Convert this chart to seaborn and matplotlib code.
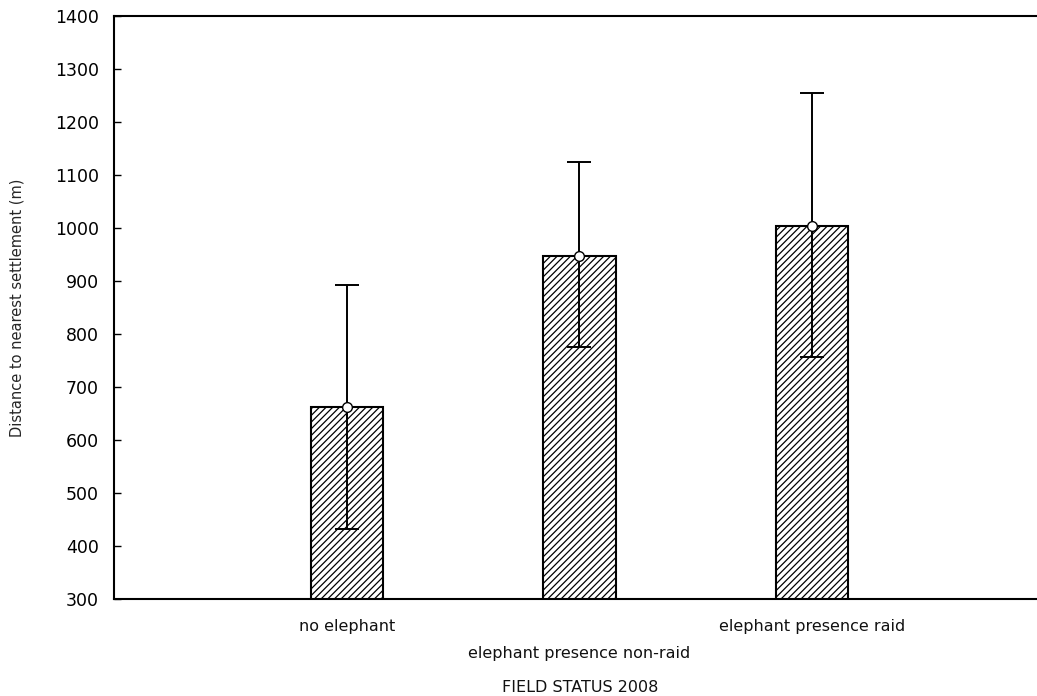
import matplotlib
matplotlib.use("Agg")
import matplotlib.pyplot as plt
import seaborn as sns
import pandas as pd
import numpy as np

categories = ["no elephant", "elephant presence non-raid", "elephant presence raid"]
means = [662, 948, 1004]
upper = [893, 1124, 1255]
lower = [432, 775, 756]

sns.set_theme(style="white")
plt.rcParams["font.family"] = ["DejaVu Sans"]
plt.rcParams["hatch.linewidth"] = 0.9
plt.rcParams["hatch.color"] = "#222222"

df = pd.DataFrame({"status": categories, "distance": means})

fig = plt.figure(figsize=(10.37, 6.96), dpi=100)
ax = fig.add_axes([114 / 1037, 1 - 599 / 696, (1045 - 114) / 1037, (599 - 16) / 696])

sns.barplot(data=df, x="status", y="distance", ax=ax, width=0.31,
            color="white", edgecolor="black", linewidth=1.5, errorbar=None)
for p in ax.patches:
    p.set_hatch("/////")
    p.set_facecolor("white")

x = np.arange(len(categories))
m = np.array(means)
yerr = np.vstack([m - np.array(lower), np.array(upper) - m])
ax.errorbar(x, m, yerr=yerr, fmt="none", ecolor="black", elinewidth=1.4,
            capsize=8.5, capthick=1.4, zorder=5)
ax.plot(x, m, linestyle="none", marker="o", markersize=7, markerfacecolor="white",
        markeredgecolor="black", markeredgewidth=1.0, zorder=6)

ax.set_xlim(-1, 3)
ax.set_ylim(300, 1400)
ax.set_yticks(np.arange(300, 1401, 100))
ax.tick_params(axis="y", direction="in", length=5, width=1, colors="black",
               labelsize=12.5, left=True, pad=11)
ax.tick_params(axis="x", direction="in", length=0, labelsize=11.5, pad=8)
ax.set_xticks(x)
ax.set_xticklabels([])
for i, lab in enumerate(categories):
    off = -0.035 if i % 2 == 0 else -0.08
    ax.text(i, off, lab, transform=ax.get_xaxis_transform(), ha="center", va="top",
            fontsize=11.5, color="#111111")

for s in ["left", "bottom", "top"]:
    ax.spines[s].set_visible(True)
    ax.spines[s].set_color("black")
    ax.spines[s].set_linewidth(1.5)
ax.spines["right"].set_visible(False)

ax.set_xlabel("")
ax.set_ylabel("Distance to nearest settlement (m)", fontsize=10.5, labelpad=22)
fig.text(580 / 1037, 1 - 688 / 696, "FIELD STATUS 2008", ha="center", va="center",
         fontsize=11.5, color="#111111")

fig.savefig("out.png", dpi=100)
